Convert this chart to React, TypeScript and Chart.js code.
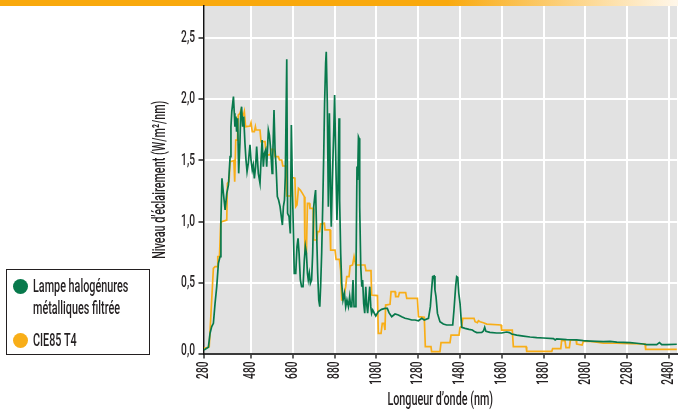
import React, { useEffect, useRef } from "react";
import { Chart, registerables } from "chart.js";

Chart.register(...registerables);

// Spectral irradiance: filtered metal-halide lamp (nm, W/m²/nm)
const lampNm = [
  255, 276, 284, 292, 300, 308, 316, 324, 332, 336, 341, 348, 356, 364, 372, 380, 384, 388, 396, 400,
  403, 408, 411, 416, 421, 427, 431, 435, 440, 445, 451, 456, 461, 467, 475, 480, 486, 491, 496, 502,
  507, 515, 523, 528, 533, 539, 544, 550, 555, 563, 568, 573, 577, 581, 584, 590, 595, 600, 606, 612,
  619, 625, 630, 635, 640, 644, 651, 655, 662, 668, 673, 678, 683, 687, 694, 700, 705, 710, 716, 722,
  729, 735, 740, 745, 750, 754, 759, 764, 770, 775, 780, 785, 789, 794, 799, 804, 809, 813, 818, 823,
  828, 832, 837, 840, 845, 850, 855, 860, 864, 869, 876, 880, 885, 891, 896, 901, 904, 909, 914, 920,
  927, 933, 939, 946, 952, 957, 962, 968, 973, 978, 982, 987, 990, 994, 997, 1000, 1005, 1010, 1014, 1019,
  1024, 1029, 1033, 1038, 1043, 1048, 1053, 1057, 1062, 1070, 1077, 1089, 1105, 1121, 1132, 1140, 1153, 1169, 1185, 1201,
  1217, 1233, 1249, 1265, 1281, 1297, 1309, 1329, 1338, 1344, 1349, 1356, 1360, 1365, 1372, 1384, 1400, 1416, 1445, 1451,
  1459, 1464, 1469, 1474, 1480, 1488, 1504, 1523, 1539, 1549, 1560, 1584, 1592, 1598, 1604, 1623, 1655, 1679, 1703, 1716,
  1727, 1751, 1783, 1815, 1847, 1879, 1927, 1935, 1942, 1990, 2038, 2070, 2102, 2134, 2166, 2198, 2230, 2261, 2293, 2325,
  2357, 2373, 2421, 2434, 2445, 2469, 2517,
];
const lampValues = [
  -0.047, -0.025, 0.089, 0.144, 0.171, 0.334, 0.47, 0.661, 0.715, 1.014, 1.354, 1.232, 1.096, 1.232, 1.3, 1.531, 1.776, 1.899, 2.021, 1.885,
  1.776, 1.858, 1.735, 1.844, 1.395, 1.64, 1.885, 1.939, 1.776, 1.858, 1.64, 1.504, 1.409, 1.477, 1.627, 1.504, 1.422, 1.463, 1.354, 1.45,
  1.613, 1.395, 1.314, 1.504, 1.667, 1.45, 1.558, 1.586, 1.45, 1.749, 1.708, 1.613, 1.504, 1.395, 1.531, 1.912, 1.586, 1.45, 1.205, 1.177,
  1.123, 1.041, 0.973, 1.123, 1.177, 1.368, 2.326, 1.069, 1.042, 0.905, 1.79, 1.286, 0.905, 0.579, 0.579, 0.797, 0.865, 0.742, 0.525, 0.47,
  0.47, 0.688, 0.797, 0.742, 0.579, 0.525, 0.579, 0.497, 0.525, 0.742, 1.123, 1.205, 1.259, 0.905, 0.579, 0.361, 0.307, 0.47, 0.742, 1.123,
  1.559, 1.967, 2.293, 2.388, 1.967, 1.123, 1.885, 1.286, 0.96, 1.341, 1.749, 2.035, 1.559, 1.014, 1.286, 1.844, 1.178, 0.742, 0.497, 0.361,
  0.416, 0.307, 0.361, 0.307, 0.388, 0.307, 0.307, 0.525, 0.307, 0.307, 0.525, 1.45, 1.341, 1.694, 1.681, 1.123, 0.634, 0.47, 0.525, 0.334,
  0.253, 0.47, 0.334, 0.253, 0.361, 0.47, 0.307, 0.253, 0.28, 0.253, 0.231, 0.266, 0.285, 0.293, 0.293, 0.258, 0.225, 0.247, 0.239, 0.225,
  0.212, 0.206, 0.198, 0.198, 0.192, 0.212, 0.198, 0.212, 0.307, 0.443, 0.552, 0.557, 0.443, 0.388, 0.252, 0.184, 0.165, 0.157, 0.157, 0.28,
  0.47, 0.552, 0.546, 0.416, 0.334, 0.138, 0.13, 0.122, 0.116, 0.103, 0.095, 0.097, 0.108, 0.138, 0.105, 0.097, 0.092, 0.092, 0.1, 0.095,
  0.084, 0.075, 0.067, 0.059, 0.054, 0.051, 0.046, 0.035, 0.043, 0.037, 0.035, 0.029, 0.026, 0.024, 0.021, 0.024, 0.018, 0.016, 0.013, 0.008,
  0.002, -0.003, -0.003, 0.013, -0.003, -0.003, 0.0,
];

// CIE 85 table 4 reference solar spectrum (stepwise)
const cieNm = [
  255, 276, 280, 300, 308, 318, 321, 329, 335, 340, 364, 367, 375, 380, 392, 398, 402, 407, 415, 419,
  427, 432, 439, 444, 448, 454, 475, 480, 486, 496, 501, 504, 523, 528, 547, 552, 571, 576, 590, 595,
  611, 616, 627, 632, 648, 651, 668, 671, 690, 694, 700, 707, 716, 726, 735, 738, 745, 750, 759, 762,
  777, 780, 794, 799, 808, 813, 831, 834, 858, 861, 882, 887, 903, 909, 914, 920, 927, 933, 938, 949,
  954, 966, 973, 981, 1025, 1030, 1054, 1057, 1085, 1089, 1102, 1108, 1116, 1121, 1124, 1145, 1150, 1169, 1172, 1185,
  1190, 1220, 1225, 1276, 1281, 1309, 1314, 1341, 1344, 1384, 1389, 1432, 1437, 1475, 1480, 1488, 1493, 1547, 1552, 1563,
  1568, 1576, 1592, 1608, 1676, 1679, 1730, 1735, 1796, 1799, 1919, 1923, 1962, 1966, 1982, 1987, 2003, 2008, 2035, 2038,
  2064, 2070, 2102, 2134, 2166, 2230, 2293, 2365, 2368, 2517,
];
const cieValues = [
  -0.034, -0.025, -0.02, 0.62, 0.633, 0.633, 0.715, 0.715, 0.987, 1.001, 1.014, 1.314, 1.327, 1.49, 1.496, 1.5, 1.327, 1.667, 1.667, 1.871,
  1.885, 1.912, 1.871, 1.871, 1.899, 1.776, 1.781, 1.809, 1.735, 1.735, 1.776, 1.749, 1.749, 1.654, 1.654, 1.545, 1.545, 1.591, 1.591, 1.531,
  1.531, 1.504, 1.504, 1.455, 1.455, 1.21, 1.21, 1.363, 1.355, 1.123, 1.137, 1.273, 1.259, 1.232, 1.205, 0.742, 0.742, 1.15, 1.15, 1.109,
  1.109, 0.851, 0.851, 0.919, 0.919, 0.981, 0.987, 0.933, 0.933, 0.769, 0.769, 0.693, 0.693, 0.6, 0.361, 0.361, 0.416, 0.47, 0.552, 0.552,
  0.639, 0.647, 0.715, 0.647, 0.647, 0.601, 0.601, 0.402, 0.397, 0.089, 0.089, 0.171, 0.171, 0.116, 0.32, 0.326, 0.429, 0.429, 0.388, 0.388,
  0.421, 0.421, 0.375, 0.375, 0.225, 0.22, -0.02, -0.02, -0.06, -0.06, 0.013, 0.013, 0.075, 0.075, 0.138, 0.144, 0.212, 0.212, 0.184, 0.176,
  0.192, 0.184, 0.176, 0.165, 0.157, 0.116, 0.116, -0.02, -0.02, -0.058, -0.058, -0.036, -0.036, 0.029, 0.029, -0.028, -0.028, 0.035, 0.035, 0.002,
  -0.006, 0.024, 0.024, 0.018, 0.008, 0.008, 0.005, 0.002, -0.042, -0.042,
];

const seriesNames = ["Lampe halogénures métalliques filtrée", "CIE85 T4"];
const xTitle = "Longueur d’onde (nm)";
const yTitle = "Niveau d’éclairement (W/m²/nm)";

const X_MIN = 252.7;
const X_MAX = 2518;
const xTickValues = [X_MIN, 480, 680, 880, 1080, 1280, 1480, 1680, 1880, 2080, 2280, 2480];
const xTickLabels = ["280", "480", "680", "880", "1080", "1280", "1480", "1680", "1880", "2080", "2280", "2480"];

const Y_MIN = -0.0755;
const Y_MAX = 2.761;
const yTickValues = [Y_MIN, 0.5, 1.0, 1.5, 2.0, 2.5];
const yTickLabels = ["0,0", "0,5", "1,0", "1,5", "2,0", "2,5"];

const GREEN = "#08794c";
const ORANGE = "#f8ae18";
const INK = "#231f20";
const FONT = 'Roboto, "Liberation Sans", sans-serif';
const WEIGHT = "500";
// horizontal squeeze giving a condensed typeface look
const SQUEEZE = 0.6;

// Grey plotting area and the orange band along the top edge
const backdrop = {
  id: "backdrop",
  beforeDraw(chart: any) {
    const { ctx, chartArea, width } = chart;
    ctx.save();
    ctx.fillStyle = "#e2e2e2";
    ctx.fillRect(chartArea.left, chartArea.top, chartArea.right - chartArea.left, chartArea.bottom - chartArea.top);
    const g = ctx.createLinearGradient(0, 0, width, 0);
    g.addColorStop(0, "#f9a90d");
    g.addColorStop(0.66, "#f9a90d");
    g.addColorStop(1, "#fff7ea");
    ctx.fillStyle = g;
    ctx.fillRect(0, 0, width, 6);
    ctx.restore();
  },
};

// Tick labels and axis titles in a condensed face
const condensedText = {
  id: "condensedText",
  afterDraw(chart: any) {
    const { ctx, chartArea } = chart;
    const xs = chart.scales.x;
    const ys = chart.scales.y;
    const put = (text: string, px: number, py: number, size: number, align: CanvasTextAlign, rot: number) => {
      ctx.save();
      ctx.translate(px, py);
      if (rot) ctx.rotate(rot);
      ctx.scale(SQUEEZE, 1);
      ctx.font = `${WEIGHT} ${size}px ${FONT}`;
      ctx.fillStyle = INK;
      ctx.textAlign = align;
      ctx.textBaseline = "middle";
      ctx.fillText(text, 0, 0);
      ctx.restore();
    };
    xTickValues.forEach((v, i) =>
      put(xTickLabels[i], xs.getPixelForValue(v), chartArea.bottom + 8, 17, "right", -Math.PI / 2)
    );
    yTickValues.forEach((v, i) =>
      put(yTickLabels[i], chartArea.left - 8.5, Math.min(ys.getPixelForValue(v), chartArea.bottom - 2.5), 17, "right", 0)
    );
    put(xTitle, (chartArea.left + chartArea.right) / 2, 400, 18, "center", 0);
    put(yTitle, 160, (chartArea.top + chartArea.bottom) / 2, 18, "center", -Math.PI / 2);
  },
};

function Legend() {
  const text: React.CSSProperties = {
    position: "absolute",
    left: 33,
    fontFamily: FONT,
    fontWeight: WEIGHT as any,
    fontSize: 18,
    color: INK,
    lineHeight: "20px",
    height: 20,
    whiteSpace: "nowrap",
    transform: `scaleX(${SQUEEZE})`,
    transformOrigin: "left center",
  };
  const dot = (color: string, top: number): React.CSSProperties => ({
    position: "absolute",
    left: 12.5,
    top,
    width: 15,
    height: 15,
    borderRadius: "50%",
    background: color,
  });
  return (
    <>
      <div
        style={{
          position: "absolute",
          left: 6,
          top: 269,
          width: 144,
          height: 86,
          boxSizing: "border-box",
          border: `1.5px solid ${INK}`,
        }}
      />
      <div style={dot(GREEN, 278.5)} />
      <div style={{ ...text, top: 276 }}>Lampe halogénures</div>
      <div style={{ ...text, top: 298 }}>métalliques filtrée</div>
      <div style={dot(ORANGE, 332.5)} />
      <div style={{ ...text, top: 330 }}>{seriesNames[1]}</div>
    </>
  );
}

export default function App() {
  const canvasRef = useRef<HTMLCanvasElement | null>(null);

  useEffect(() => {
    if (!canvasRef.current) return;
    const lampData = lampNm.map((x, i) => ({ x, y: lampValues[i] }));
    const cieData = cieNm.map((x, i) => ({ x, y: cieValues[i] }));

    const chart = new Chart(canvasRef.current, {
      type: "line",
      data: {
        datasets: [
          {
            label: seriesNames[0],
            data: lampData,
            borderColor: GREEN,
            borderWidth: 1.7,
            pointRadius: 0,
            tension: 0,
            order: 0,
          },
          {
            label: seriesNames[1],
            data: cieData,
            borderColor: ORANGE,
            borderWidth: 1.7,
            pointRadius: 0,
            tension: 0,
            order: 1,
          },
        ],
      },
      options: {
        responsive: false,
        animation: false,
        events: [],
        layout: { padding: { left: 150, top: 6, right: 1, bottom: 0 } },
        plugins: { legend: { display: false }, tooltip: { enabled: false } },
        scales: {
          x: {
            type: "linear",
            min: X_MIN,
            max: X_MAX,
            afterBuildTicks: (s: any) => {
              s.ticks = xTickValues.map((value) => ({ value }));
            },
            afterFit: (s: any) => {
              s.height = 58.5;
            },
            grid: { color: "#ffffff", lineWidth: 2, tickColor: "#333333", tickLength: 5, tickWidth: 1.5 },
            border: { color: "#3a3a3a", width: 2 },
            ticks: { display: false },
            title: { display: false },
          },
          y: {
            min: Y_MIN,
            max: Y_MAX,
            afterBuildTicks: (s: any) => {
              s.ticks = yTickValues.map((value) => ({ value }));
            },
            afterFit: (s: any) => {
              s.width = 53.5;
            },
            grid: { color: "#ffffff", lineWidth: 2, tickColor: "#222222", tickLength: 5, tickWidth: 1.5 },
            border: { color: "#111111", width: 1.5 },
            ticks: { display: false },
            title: { display: false },
          },
        },
      },
      plugins: [backdrop, condensedText],
    } as any);

    return () => chart.destroy();
  }, []);

  return (
    <div style={{ position: "fixed", left: 0, top: 0, width: 678, height: 412, background: "#fff" }}>
      <canvas ref={canvasRef} width={678} height={412} style={{ display: "block" }} />
      <Legend />
    </div>
  );
}
